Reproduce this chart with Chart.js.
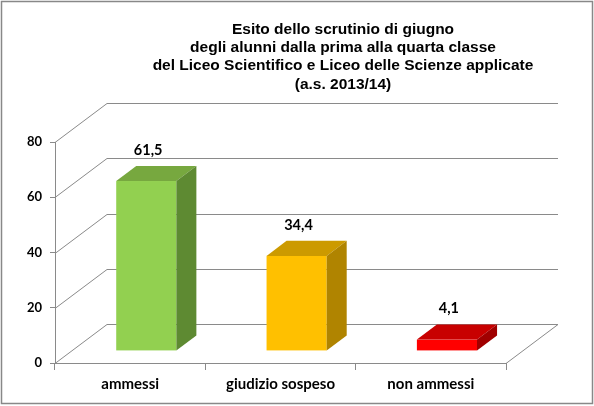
<!DOCTYPE html>
<html>
<head>
<meta charset="utf-8">
<script src="https://cdn.jsdelivr.net/npm/chart.js@4"></script>
<style>
html,body{margin:0;padding:0;background:#fff;}
#wrap{width:594px;height:406px;position:relative;}
</style>
</head>
<body>
<div id="wrap"><canvas id="c" width="594" height="406"></canvas></div>
<script>
// ---- data ----
const categories = ["ammessi", "giudizio sospeso", "non ammessi"];
const values = [61.5, 34.4, 4.1];
const valueLabels = ["61,5", "34,4", "4,1"];
const titleLines = [
  "Esito dello scrutinio di giugno",
  "degli alunni dalla prima alla quarta classe",
  "del Liceo Scientifico e Liceo delle Scienze applicate",
  "(a.s. 2013/14)"
];
const yTicks = [0, 20, 40, 60, 80];
const frontColors = ["#92D050", "#FFC000", "#FF0000"];
const topColors = ["#77A83F", "#CC9A00", "#C80000"];
const sideColors = ["#5E8A32", "#B08400", "#A00000"];

// ---- 3D geometry (style only) ----
const DEPTH_DX = 52, DEPTH_DY = -39;   // full floor depth
const BAR_T0 = 0.31;                   // bar front depth fraction
const BAR_DEPTH = 0.385;               // bar depth fraction
const GRID = "#8a8a8a";
const LABEL_FONT = "Lato, 'Open Sans', sans-serif";

const threeD = {
  id: "threeD",
  beforeDraw(chart) {
    const ctx = chart.ctx;
    ctx.save();
    ctx.fillStyle = "#fff";
    ctx.fillRect(0, 0, chart.width, chart.height);
    // outer border
    ctx.strokeStyle = "#888";
    ctx.lineWidth = 1.5;
    ctx.beginPath();
    ctx.rect(1.5, 1.5, 591, 402);
    ctx.stroke();
    // title
    ctx.fillStyle = "#000";
    ctx.font = "bold 15.5px 'Liberation Sans', Arial, sans-serif";
    ctx.textAlign = "center";
    ctx.textBaseline = "middle";
    const ty = [29.5, 47.5, 66, 84.5];
    titleLines.forEach((t, i) => ctx.fillText(t, 343, ty[i]));
    ctx.restore();
  },
  beforeDatasetsDraw(chart) {
    const ctx = chart.ctx;
    const ys = chart.scales.y;
    const a = chart.chartArea;
    const x0 = a.left, x1 = a.right;
    ctx.save();
    ctx.strokeStyle = GRID;
    ctx.lineWidth = 1;
    yTicks.forEach(v => {
      const y = Math.round(ys.getPixelForValue(v)) + 0.5;
      ctx.beginPath();
      ctx.moveTo(x0, y);
      ctx.lineTo(x0 + DEPTH_DX, y + DEPTH_DY);
      ctx.lineTo(x1 + DEPTH_DX, y + DEPTH_DY);
      ctx.stroke();
    });
    // floor right edge
    const y0 = Math.round(ys.getPixelForValue(0)) + 0.5;
    ctx.beginPath();
    ctx.moveTo(x1, y0);
    ctx.lineTo(x1 + DEPTH_DX, y0 + DEPTH_DY);
    ctx.stroke();
    ctx.restore();
  },
  afterDatasetsDraw(chart) {
    const ctx = chart.ctx;
    const meta = chart.getDatasetMeta(0);
    const fdx = DEPTH_DX * BAR_T0, fdy = DEPTH_DY * BAR_T0;
    const bdx = DEPTH_DX * BAR_DEPTH, bdy = DEPTH_DY * BAR_DEPTH;
    ctx.save();
    meta.data.forEach((el, i) => {
      const p = el.getProps(["x", "y", "base", "width"], true);
      const L = p.x - p.width / 2 + fdx, R = p.x + p.width / 2 + fdx;
      const T = p.y + fdy, B = p.base + fdy;
      // front
      ctx.fillStyle = frontColors[i];
      ctx.fillRect(L, T, R - L, B - T);
      // top
      ctx.fillStyle = topColors[i];
      ctx.beginPath();
      ctx.moveTo(L, T); ctx.lineTo(R, T);
      ctx.lineTo(R + bdx, T + bdy); ctx.lineTo(L + bdx, T + bdy);
      ctx.closePath(); ctx.fill();
      // side
      ctx.fillStyle = sideColors[i];
      ctx.beginPath();
      ctx.moveTo(R, T); ctx.lineTo(R + bdx, T + bdy);
      ctx.lineTo(R + bdx, B + bdy); ctx.lineTo(R, B);
      ctx.closePath(); ctx.fill();
      // value label
      ctx.fillStyle = "#000";
      ctx.font = "bold 14.5px " + LABEL_FONT;
      ctx.textAlign = "center";
      ctx.textBaseline = "middle";
      ctx.fillText(valueLabels[i], p.x + 18, T + bdy - 16);
    });
    ctx.restore();
  }
};

new Chart(document.getElementById("c"), {
  type: "bar",
  data: {
    labels: categories,
    datasets: [{
      data: values,
      backgroundColor: "rgba(0,0,0,0)",
      borderWidth: 0,
      barPercentage: 0.4,
      categoryPercentage: 1.0
    }]
  },
  options: {
    responsive: false,
    animation: false,
    devicePixelRatio: 1,
    layout: { padding: { top: 142, right: 88, bottom: 0, left: 0 } },
    plugins: {
      legend: { display: false },
      title: { display: false },
      tooltip: { enabled: false }
    },
    scales: {
      x: {
        grid: { display: true, drawOnChartArea: false, drawTicks: true, tickLength: 7, color: GRID },
        border: { display: true, color: GRID, width: 1 },
        ticks: { color: "#000", padding: 5, font: { family: LABEL_FONT, size: 15, weight: "bold" } },
        afterFit(s) { s.height = 43; }
      },
      y: {
        min: 0, max: 80,
        ticks: { stepSize: 20, color: "#000", padding: 8, font: { family: LABEL_FONT, size: 13, weight: "bold" } },
        grid: { display: true, drawOnChartArea: false, drawTicks: true, tickLength: 5, color: GRID },
        border: { display: true, color: GRID, width: 1 },
        afterFit(s) { s.width = 55; }
      }
    }
  },
  plugins: [threeD]
});
</script>
</body>
</html>
